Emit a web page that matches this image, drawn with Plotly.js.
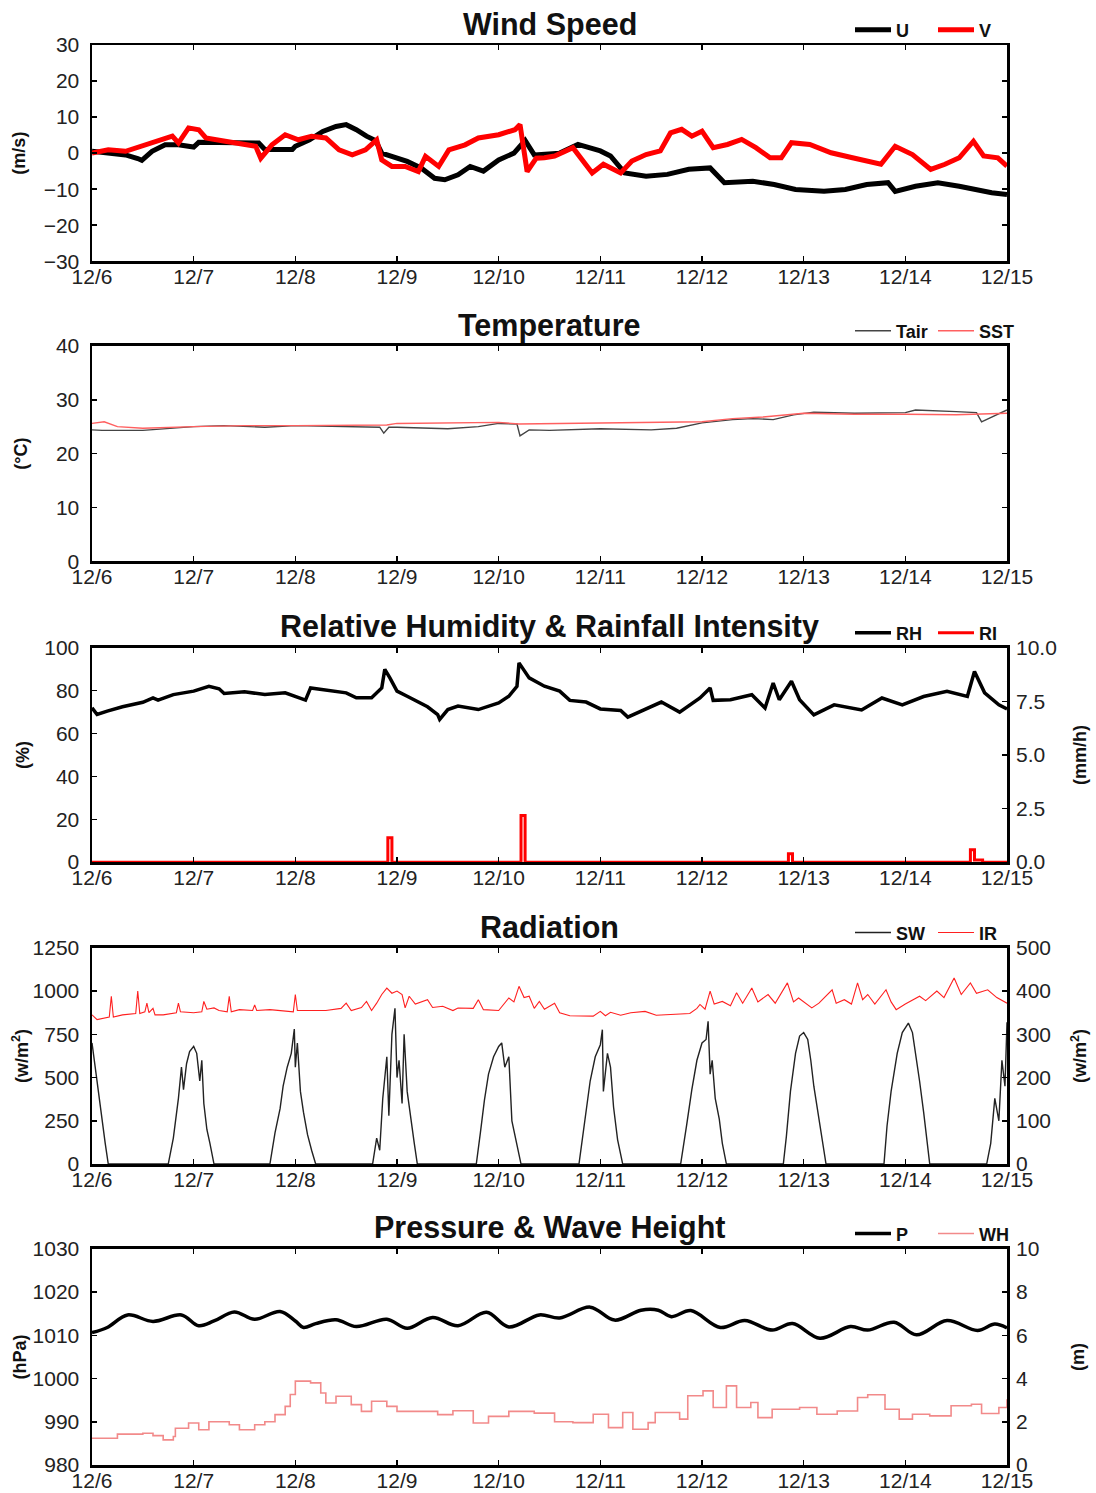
<!DOCTYPE html>
<html><head><meta charset="utf-8">
<script src="https://cdn.plot.ly/plotly-3.0.1.min.js"></script>
<style>html,body{margin:0;padding:0;background:#fff}</style>
</head><body><div id="chart" style="width:1096px;height:1493px"></div>
<script>
// ---- x axis (days since 12/6 00:00) ----
const dayTicks = [0,1,2,3,4,5,6,7,8,9];
const dayLabels = ['12/6','12/7','12/8','12/9','12/10','12/11','12/12','12/13','12/14','12/15'];

// ---- Wind speed (m/s) ----
const uT = [0,0.16,0.33,0.45,0.49,0.59,0.72,0.85,1.0,1.05,1.3,1.64,1.7,1.97,2.0,2.14,2.27,2.4,2.5,2.6,2.7,2.79,2.85,3.0,3.1,3.24,3.37,3.47,3.6,3.72,3.85,4.0,4.15,4.26,4.35,4.6,4.78,5.0,5.1,5.24,5.45,5.66,5.87,6.08,6.22,6.5,6.71,6.92,7.2,7.41,7.62,7.83,7.9,8.1,8.32,8.53,8.74,8.85,9.0];
const uV = [0.5,0,-0.5,-1.5,-2,0.5,2.3,2.3,1.7,3,3,2.8,1,1,1.9,3.7,6,7.4,7.9,6.5,4.7,3.5,0,-1.4,-2.3,-4.2,-7,-7.4,-6,-3.7,-5,-1.9,0,3.5,-0.5,0,2.4,0.6,-0.8,-5.5,-6.4,-5.9,-4.5,-4.1,-8.2,-7.8,-8.7,-10.1,-10.6,-10.1,-8.7,-8.2,-10.6,-9.2,-8.2,-9.2,-10.6,-11,-11.5];
const vT = [0,0.16,0.33,0.49,0.66,0.79,0.85,0.95,1.05,1.12,1.31,1.51,1.61,1.66,1.77,1.9,2.03,2.16,2.3,2.43,2.56,2.69,2.8,2.85,2.95,3.08,3.21,3.28,3.41,3.51,3.67,3.8,4.0,4.16,4.21,4.28,4.37,4.45,4.55,4.73,4.85,4.92,5.03,5.2,5.31,5.45,5.59,5.69,5.8,5.9,6.0,6.11,6.25,6.39,6.53,6.67,6.78,6.88,7.06,7.27,7.48,7.76,7.9,8.07,8.25,8.39,8.53,8.67,8.77,8.91,9.0];
const vV = [0,0.9,0.5,1.9,3.7,4.7,2.8,7,6.5,4.2,3.3,2.3,1.9,-1.4,2.3,5.1,3.7,4.7,4.2,0.9,-0.5,0.9,3.7,-1.9,-3.7,-3.7,-5.1,-0.9,-3.7,0.9,2.3,4.2,5.1,6.5,7.9,-5.1,-1.4,-1.3,-0.8,1.5,-3.1,-5.5,-3.1,-5.5,-2.2,-0.4,0.6,5.6,6.6,4.7,6.1,1.5,2.4,3.8,1.5,-1.3,-1.3,2.9,2.4,0.1,-1.3,-3.1,1.9,-0.4,-4.5,-3.1,-1.3,3.3,-0.8,-1.3,-3.6];

// ---- Temperature (°C) ----
const tairT = [0,0.1,0.5,0.8,1.0,1.3,1.7,2.0,2.5,2.83,2.87,2.92,3.0,3.5,3.8,4.0,4.18,4.21,4.3,4.5,5.0,5.5,5.75,6.0,6.3,6.5,6.7,6.9,7.1,7.5,8.0,8.1,8.5,8.7,8.75,8.85,9.0];
const tairV = [24.4,24.3,24.3,24.7,25,25.2,24.9,25.2,25.1,24.9,23.8,24.9,24.9,24.6,25,25.6,25.5,23.3,24.4,24.3,24.6,24.4,24.7,25.7,26.3,26.5,26.3,27.2,27.7,27.5,27.6,28.1,27.8,27.6,25.9,26.8,28.1];
const sstT = [0,0.12,0.25,0.5,1.0,1.5,2.0,2.9,3.0,4.0,4.2,5.0,5.5,6.0,6.3,6.6,7.0,7.5,8.0,8.5,9.0];
const sstV = [25.6,25.9,25.0,24.7,25.0,25.2,25.2,25.3,25.6,25.8,25.5,25.7,25.9,25.9,26.5,26.8,27.5,27.3,27.3,27.2,27.5];

// ---- Relative humidity (%) and rainfall intensity (mm/h) ----
const rhT = [0,0.05,0.15,0.3,0.5,0.6,0.65,0.8,1.0,1.15,1.25,1.3,1.5,1.7,1.9,2.1,2.15,2.3,2.5,2.6,2.75,2.85,2.88,2.93,3.0,3.1,3.2,3.3,3.4,3.42,3.5,3.6,3.8,4.0,4.1,4.18,4.2,4.3,4.45,4.6,4.7,4.86,5.0,5.2,5.27,5.44,5.6,5.78,5.98,6.08,6.11,6.28,6.49,6.62,6.7,6.76,6.88,6.96,7.1,7.3,7.57,7.77,7.97,8.18,8.41,8.61,8.68,8.78,8.92,9.0];
const rhV = [72,68.9,70.5,72.5,74.6,76.7,75.6,78.2,79.8,82.1,80.9,78.7,79.5,78.2,79,75.6,81.3,80.2,79,76.7,76.7,81.3,90,86,79.8,77.4,75.1,72.5,68.9,66.6,71.2,72.8,71.2,74.3,77.4,82.1,93,86,82.1,79.8,75.5,74.7,71.5,70.8,67.7,71.5,74.7,70,76.6,81.3,75.5,75.8,78.1,71.9,83.6,75.8,84.4,75.8,68.75,73.4,71,76.6,73.4,77.3,79.7,77.3,89,79,73.4,71.5];
const riT = [0,2.91,2.95,4.22,4.26,6.85,6.89,8.64,8.68,8.76,9];
const riV = [0,1.14,0,2.18,0,0.39,0,0.58,0.1,0,0];

// ---- Radiation (W/m2) ----
const swT = [0,0.03,0.06,0.1,0.13,0.16,
 0.75,0.8,0.85,0.88,0.9,0.93,0.96,1.0,1.03,1.06,1.08,1.1,1.13,1.16,1.2,
 1.75,1.8,1.85,1.88,1.92,1.96,1.99,2.0,2.02,2.05,2.08,2.12,2.16,2.2,
 2.76,2.8,2.83,2.86,2.9,2.92,2.95,2.98,3.0,3.02,3.05,3.07,3.1,3.13,3.17,3.2,
 3.78,3.82,3.86,3.9,3.95,4.0,4.03,4.06,4.1,4.13,4.18,4.22,
 4.79,4.85,4.9,4.95,5.0,5.02,5.03,5.07,5.1,5.13,5.17,5.22,
 5.79,5.85,5.9,5.95,6.0,6.04,6.06,6.08,6.1,6.13,6.17,6.2,6.24,
 6.8,6.83,6.87,6.92,6.96,7.0,7.04,7.07,7.1,7.14,7.18,7.22,
 7.79,7.82,7.86,7.92,7.97,8.03,8.07,8.1,8.14,8.18,8.21,8.24,
 8.8,8.84,8.88,8.92,8.95,8.98,9.0];
const swV = [700,560,420,260,120,0,
 0,150,380,560,430,580,650,680,640,480,600,350,200,120,0,
 0,180,320,450,560,640,780,560,700,420,300,170,80,0,
 0,150,80,380,620,280,750,900,500,600,350,750,420,280,120,0,
 0,180,370,520,620,680,700,560,620,250,120,0,
 0,250,480,620,690,777,420,640,560,330,140,0,
 0,230,430,600,700,720,825,520,600,380,260,120,0,
 0,160,420,640,740,760,720,600,450,300,150,0,
 0,220,420,640,760,815,760,650,480,300,160,0,
 0,120,380,250,600,450,820];
const irT = [0,0.05,0.17,0.19,0.21,0.3,0.43,0.45,0.47,0.52,0.54,0.56,0.6,0.62,0.7,0.83,0.85,0.87,1.0,1.08,1.1,1.13,1.2,1.25,1.33,1.35,1.37,1.45,1.58,1.6,1.62,1.75,1.98,2.0,2.02,2.3,2.45,2.5,2.55,2.65,2.7,2.75,2.8,2.85,2.9,2.95,3.0,3.05,3.08,3.12,3.18,3.3,3.35,3.45,3.55,3.6,3.75,3.8,3.85,4.0,4.1,4.15,4.2,4.25,4.3,4.35,4.4,4.45,4.55,4.6,4.7,4.8,4.93,5.0,5.05,5.1,5.2,5.3,5.44,5.55,5.68,5.88,5.95,5.98,6.03,6.08,6.12,6.2,6.28,6.34,6.4,6.49,6.55,6.65,6.72,6.84,6.9,6.95,7.08,7.15,7.28,7.32,7.4,7.47,7.53,7.58,7.63,7.7,7.81,7.86,7.91,8.0,8.14,8.2,8.31,8.38,8.48,8.55,8.64,8.7,8.81,8.9,9.0];
const irV = [345,334,340,388,340,345,348,400,348,352,372,350,360,345,345,350,372,352,350,352,376,358,361,355,352,388,352,357,355,368,355,357,352,392,355,355,360,372,355,362,376,355,372,392,407,395,400,392,361,388,370,380,362,365,355,361,360,380,357,355,384,375,411,385,388,360,376,358,372,350,343,342,342,353,343,351,344,350,353,344,345,348,360,369,358,400,370,376,366,396,372,407,375,392,372,419,375,384,361,372,403,372,380,370,419,380,392,370,403,375,357,370,388,378,400,385,430,392,419,395,403,385,372];

// ---- Pressure (hPa) and wave height (m) ----
const pT = [0,0.15,0.35,0.6,0.88,1.05,1.2,1.4,1.6,1.85,2.0,2.08,2.2,2.4,2.6,2.9,3.1,3.35,3.6,3.88,4.1,4.4,4.6,4.9,5.14,5.4,5.57,5.7,5.89,6.18,6.42,6.69,6.89,7.16,7.46,7.63,7.89,8.11,8.41,8.71,8.88,9.0];
const pV = [1010.6,1011.8,1014.7,1013.2,1014.7,1012.2,1013.3,1015.4,1013.7,1015.5,1013.3,1011.8,1012.7,1013.6,1012.0,1013.7,1011.6,1014.1,1012.2,1015.3,1011.9,1014.7,1014.0,1016.5,1013.5,1015.8,1015.8,1014.3,1015.7,1011.8,1013.4,1011.2,1012.7,1009.3,1012.0,1011.2,1013.0,1010.1,1013.4,1011.1,1012.6,1011.7];
const whT = [0,0.25,0.5,0.6,0.7,0.8,0.82,0.95,1.05,1.15,1.35,1.45,1.6,1.7,1.8,1.9,1.95,2.0,2.15,2.25,2.3,2.4,2.55,2.65,2.75,2.9,3.0,3.2,3.4,3.55,3.75,3.9,4.1,4.35,4.55,4.73,4.93,5.08,5.22,5.32,5.47,5.54,5.78,5.86,6.01,6.11,6.24,6.34,6.48,6.55,6.69,6.96,7.13,7.33,7.53,7.63,7.8,7.94,8.07,8.24,8.45,8.65,8.75,8.92,9.0];
const whV = [1.24,1.43,1.47,1.36,1.16,1.32,1.7,1.94,1.63,2.0,1.86,1.63,1.86,2.0,2.33,2.71,3.26,3.88,3.8,3.33,2.87,3.18,2.79,2.48,2.95,2.71,2.48,2.48,2.33,2.51,1.94,2.25,2.48,2.4,2.0,1.96,2.35,1.73,2.43,1.65,1.96,2.43,2.12,3.2,3.43,2.66,3.66,2.66,2.89,2.19,2.58,2.66,2.35,2.5,3.12,3.25,2.58,2.12,2.35,2.27,2.74,2.81,2.38,2.66,3.04];

// ---- Layout helpers ----
const FONT = 'Liberation Sans, Arial, Helvetica, sans-serif';
const H = 1493, MT = 40, MB = 28, PH = H - MT - MB;
const pTop = [40, 342, 645, 946, 1248];
const pBot = [257, 558, 860, 1163, 1465];
const dom = i => [1 - (pBot[i] - MT) / PH, 1 - (pTop[i] - MT) / PH];
const titles = ['Wind Speed', 'Temperature', 'Relative Humidity &amp; Rainfall Intensity', 'Radiation', 'Pressure &amp; Wave Height'];

function xAx(anchor) {
  return {anchor: anchor, domain: [0, 1], range: [0, 9], tickvals: dayTicks, ticktext: dayLabels,
    ticks: 'inside', ticklen: 5, tickwidth: 1.5, tickcolor: '#000', showline: true, linewidth: 2.5,
    linecolor: '#000', mirror: 'ticks', showgrid: false, zeroline: false, ticklabelstandoff: -5,
    tickfont: {family: FONT, size: 21, color: '#222'}};
}
function yAx(i, range, dtick, title, mirror, standoff) {
  return {domain: dom(i), range: range, dtick: dtick, tick0: range[0], ticks: 'inside', ticklen: 5, tickwidth: 1.5,
    tickcolor: '#000', showline: true, linewidth: 2.5, linecolor: '#000', mirror: mirror,
    showgrid: false, zeroline: false, ticklabelstandoff: 6,
    tickfont: {family: FONT, size: 21, color: '#222'},
    title: {text: title, font: {family: FONT, size: 18, weight: 'bold', color: '#111'}, standoff: standoff}};
}
function y2Ax(over, xa, range, dtick, title, fmt, standoff) {
  return {overlaying: over, side: 'right', anchor: xa,
    range: range, dtick: dtick, tick0: 0, tickformat: fmt, ticks: 'inside', ticklen: 5, tickwidth: 1.5,
    tickcolor: '#000', showline: false, showgrid: false, zeroline: false, ticklabelstandoff: 8,
    tickfont: {family: FONT, size: 21, color: '#222'},
    title: {text: title, font: {family: FONT, size: 18, weight: 'bold', color: '#111'}, standoff: standoff}};
}
function leg(i) {
  return {orientation: 'h', x: (850 - 92) / 915, xanchor: 'left', y: dom(i)[1] + 15 / PH, yanchor: 'middle',
    bgcolor: 'rgba(0,0,0,0)', font: {family: FONT, size: 18, weight: 'bold', color: '#111'},
    itemwidth: 36, entrywidthmode: 'pixels', entrywidth: 32, tracegroupgap: 0};
}

const traces = [
  {x: uT, y: uV, name: 'U', type: 'scatter', mode: 'lines', line: {color: '#000', width: 5}, xaxis: 'x', yaxis: 'y', legend: 'legend'},
  {x: vT, y: vV, name: 'V', type: 'scatter', mode: 'lines', line: {color: '#ff0000', width: 5}, xaxis: 'x', yaxis: 'y', legend: 'legend'},
  {x: tairT, y: tairV, name: 'Tair', type: 'scatter', mode: 'lines', line: {color: '#444', width: 1.4}, xaxis: 'x2', yaxis: 'y2', legend: 'legend2'},
  {x: sstT, y: sstV, name: 'SST', type: 'scatter', mode: 'lines', line: {color: '#ff6060', width: 1.4}, xaxis: 'x2', yaxis: 'y2', legend: 'legend2'},
  {x: rhT, y: rhV, name: 'RH', type: 'scatter', mode: 'lines', line: {color: '#000', width: 3.5}, xaxis: 'x3', yaxis: 'y3', legend: 'legend3'},
  {x: riT, y: riV, name: 'RI', type: 'scatter', mode: 'lines', line: {color: '#ff0000', width: 3, shape: 'hv'}, xaxis: 'x3', yaxis: 'y4', legend: 'legend3'},
  {x: swT, y: swV, name: 'SW', type: 'scatter', mode: 'lines', line: {color: '#222', width: 1.4}, xaxis: 'x4', yaxis: 'y5', legend: 'legend4'},
  {x: irT, y: irV, name: 'IR', type: 'scatter', mode: 'lines', line: {color: '#ff2020', width: 1.1}, xaxis: 'x4', yaxis: 'y6', legend: 'legend4'},
  {x: pT, y: pV, name: 'P', type: 'scatter', mode: 'lines', line: {color: '#000', width: 3.5, shape: 'spline'}, xaxis: 'x5', yaxis: 'y7', legend: 'legend5'},
  {x: whT, y: whV, name: 'WH', type: 'scatter', mode: 'lines', line: {color: '#f28a8a', width: 1.6, shape: 'hv'}, xaxis: 'x5', yaxis: 'y8', legend: 'legend5'}
];

const annotations = titles.map((t, i) => ({text: t, xref: 'paper', yref: 'paper', x: 0.5, y: dom(i)[1] + 21 / PH,
  xanchor: 'center', yanchor: 'middle', showarrow: false, font: {family: FONT, size: 30.5, weight: 'bold', color: '#111'}}));

const layout = {
  width: 1096, height: 1493, margin: {l: 92, r: 89, t: MT, b: MB}, paper_bgcolor: '#fff', plot_bgcolor: '#fff',
  font: {family: FONT},
  xaxis: xAx('y'), xaxis2: xAx('y2'), xaxis3: xAx('y3'), xaxis4: xAx('y5'), xaxis5: xAx('y7'),
  yaxis: yAx(0, [-30, 30], 10, '(m/s)', 'ticks', 14),
  yaxis2: yAx(1, [0, 40], 10, '(°C)', 'ticks', 24),
  yaxis3: yAx(2, [0, 100], 20, '(%)', true, 10),
  yaxis4: y2Ax('y3', 'x3', [0, 10], 2.5, '(mm/h)', '.1f', 17),
  yaxis5: yAx(3, [0, 1250], 250, '(w/m<sup>2</sup>)', true, 0),
  yaxis6: y2Ax('y5', 'x4', [0, 500], 100, '(w/m<sup>2</sup>)', '', 23),
  yaxis7: yAx(4, [980, 1030], 10, '(hPa)', true, 2),
  yaxis8: y2Ax('y7', 'x5', [0, 10], 2, '(m)', '', 33),
  legend: leg(0), legend2: leg(1), legend3: leg(2), legend4: leg(3), legend5: leg(4),
  annotations: annotations
};

Plotly.newPlot('chart', traces, layout, {displayModeBar: false, staticPlot: true});
</script></body></html>
